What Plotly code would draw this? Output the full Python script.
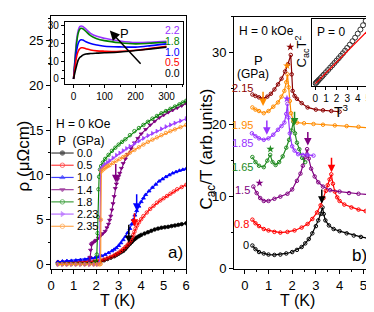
import plotly.graph_objects as go

W, H = 374, 312
FONT = "Liberation Sans, Arial, sans-serif"

# ---------------- Panel a: resistivity ----------------
pa_labels = ["0.0", "0.5", "1.0", "1.4", "1.8", "2.23", "2.35"]
pa_colors = ["#000000", "#FF0000", "#0000FF", "#800080", "#008000", "#A040FF", "#FF8C1A"]
pa_symbols = ["circle", "circle-open", "triangle-up", "triangle-down", "circle-open", "triangle-right", "circle-open"]

a_T00 = [0.3,0.5,0.7,0.9,1.1,1.3,1.5,1.7,1.9,2.05,2.2,2.35,2.5,2.65,2.8,2.9,3.0,3.1,3.2,3.28,3.35,3.42,3.5,3.58,3.65,3.72,3.8,3.9,4.0,4.15,4.3,4.45,4.6,4.75,4.9,5.05,5.2,5.35,5.5,5.65,5.8,6.0]
a_R00 = [0.15,0.15,0.15,0.15,0.15,0.18,0.2,0.22,0.25,0.3,0.35,0.45,0.6,0.75,0.9,1.05,1.2,1.35,1.5,1.7,1.9,2.1,2.3,2.5,2.7,2.85,3.0,3.15,3.3,3.45,3.6,3.75,3.9,4.0,4.1,4.15,4.2,4.28,4.35,4.42,4.5,4.6]
a_T05 = [0.3,0.5,0.7,0.9,1.1,1.3,1.5,1.7,1.9,2.05,2.2,2.35,2.5,2.65,2.8,2.9,3.0,3.1,3.2,3.3,3.4,3.48,3.55,3.6,3.65,3.7,3.75,3.82,3.9,4.0,4.1,4.25,4.4,4.55,4.7,4.85,5.0,5.15,5.3,5.45,5.6,5.8,6.0]
a_R05 = [0.25,0.25,0.25,0.25,0.25,0.28,0.3,0.32,0.35,0.4,0.45,0.55,0.7,0.85,1.0,1.15,1.3,1.5,1.7,1.95,2.2,2.45,2.7,3.0,3.3,3.65,4.0,4.35,4.7,5.05,5.4,5.8,6.2,6.55,6.9,7.15,7.4,7.65,7.9,8.15,8.4,8.65,8.9]
a_T10 = [0.3,0.5,0.7,0.9,1.1,1.3,1.5,1.65,1.8,1.95,2.1,2.25,2.4,2.55,2.7,2.8,2.9,3.0,3.1,3.2,3.3,3.4,3.5,3.58,3.65,3.72,3.8,3.9,4.0,4.1,4.2,4.35,4.5,4.65,4.8,4.95,5.1,5.25,5.4,5.55,5.7,5.85,6.0]
a_R10 = [0.3,0.35,0.4,0.42,0.45,0.5,0.55,0.62,0.7,0.75,0.8,0.95,1.1,1.3,1.5,1.67,1.85,2.1,2.4,2.75,3.1,3.55,4.0,4.5,5.0,5.5,6.0,6.5,7.0,7.4,7.8,8.2,8.6,8.95,9.3,9.55,9.8,10.0,10.2,10.35,10.5,10.6,10.7]
a_T14 = [1.68,1.7,1.72,1.75,1.78,1.82,1.88,1.95,2.0,2.1,2.2,2.3,2.4,2.48,2.55,2.6,2.65,2.7,2.75,2.8,2.85,2.9,2.95,3.0,3.05,3.12,3.2,3.3,3.4,3.55,3.7,3.85,4.0,4.2,4.4,4.6,4.8,5.0,5.2,5.4,5.6,5.8,6.0]
a_R14 = [0.0,0.4,0.8,1.6,2.2,2.35,2.45,2.6,2.7,2.95,3.2,3.45,3.7,4.1,4.5,4.95,5.4,6.1,6.8,7.6,8.5,9.0,9.5,9.85,10.2,10.75,11.3,11.8,12.3,12.95,13.6,14.1,14.6,15.1,15.6,16.0,16.4,16.7,17.0,17.25,17.5,17.75,18.0]
a_T18 = [0.3,0.5,0.7,0.9,1.1,1.3,1.5,1.7,1.9,2.0,2.03,2.06,2.08,2.1,2.13,2.17,2.22,2.3,2.4,2.55,2.7,2.85,3.0,3.15,3.3,3.5,3.7,3.9,4.1,4.3,4.5,4.7,4.9,5.1,5.3,5.5,5.7,5.85,6.0]
a_R18 = [0.05,0.05,0.05,0.05,0.05,0.05,0.05,0.07,0.1,0.3,1.1,3.5,5.3,8.4,9.8,10.6,11.0,11.4,11.8,12.25,12.7,13.05,13.4,13.7,14.0,14.45,14.9,15.25,15.6,15.95,16.3,16.6,16.9,17.15,17.4,17.65,17.9,18.1,18.3]
a_T223 = [0.3,0.5,0.7,0.9,1.1,1.3,1.5,1.7,1.9,2.05,2.15,2.18,2.2,2.25,2.32,2.4,2.5,2.6,2.75,2.9,3.05,3.2,3.35,3.5,3.7,3.9,4.1,4.3,4.5,4.7,4.9,5.1,5.3,5.5,5.75,6.0]
a_R223 = [0.0,0.0,0.0,0.0,0.0,0.0,0.0,0.0,0.0,0.0,0.1,5.0,10.5,10.8,11.0,11.2,11.4,11.6,11.9,12.2,12.45,12.7,12.95,13.2,13.5,13.8,14.1,14.4,14.65,14.9,15.15,15.4,15.6,15.8,16.05,16.3]
a_T235 = [0.3,0.5,0.7,0.9,1.1,1.3,1.5,1.7,1.9,2.05,2.15,2.2,2.21,2.23,2.3,2.38,2.45,2.52,2.6,2.75,2.9,3.05,3.2,3.35,3.5,3.7,3.9,4.1,4.3,4.5,4.7,4.9,5.1,5.3,5.5,5.75,6.0]
a_R235 = [0.0,0.0,0.0,0.0,0.0,0.0,0.0,0.0,0.0,0.0,0.0,0.05,5.0,10.4,10.6,10.75,10.9,11.0,11.1,11.35,11.6,11.8,12.0,12.25,12.5,12.8,13.1,13.4,13.7,13.95,14.2,14.45,14.7,14.9,15.1,15.35,15.6]
pa_T = [a_T00, a_T05, a_T10, a_T14, a_T18, a_T223, a_T235]
pa_R = [a_R00, a_R05, a_R10, a_R14, a_R18, a_R223, a_R235]

# arrows in panel a: (T, tail rho, head rho, color index)
pa_arrows = [(3.45, 4.6, 2.4, 0), (3.7, 5.9, 4.2, 1), (3.8, 8.0, 6.0, 2), (2.87, 11.4, 9.2, 3)]

# ---------------- Inset a: rho(T) to 300 K ----------------
ia_labels = ["2.2", "1.8", "1.0", "0.5", "0.0"]
ia_colors = ["#9933FF", "#008000", "#0000FF", "#FF0000", "#000000"]
ia_T = [0, 5, 10, 15, 20, 25, 30, 40, 55, 75, 100, 150, 200, 250, 300]
ia_R22 = [0, 12, 22, 27, 29.2, 29.6, 29.3, 27.8, 25.5, 23.8, 22.7, 21.2, 20.3, 20.5, 21.0]
ia_R18 = [0, 11, 20, 25.5, 27.8, 28.3, 28.0, 26.5, 24.2, 22.5, 21.4, 20.2, 19.6, 20.0, 20.5]
ia_R10 = [0, 9, 16, 19.8, 21.5, 21.9, 21.7, 20.8, 19.8, 19.0, 18.3, 17.9, 17.8, 18.6, 19.6]
ia_R05 = [0, 7, 12.5, 15.5, 16.9, 17.4, 17.4, 16.9, 16.2, 15.7, 15.5, 15.4, 16.0, 17.1, 18.3]
ia_R00 = [0, 4, 7.5, 10.5, 12.0, 12.6, 13.3, 13.9, 14.2, 14.4, 14.6, 15.1, 15.9, 16.8, 17.8]
ia_R = [ia_R22, ia_R18, ia_R10, ia_R05, ia_R00]

# ---------------- Panel b: Cac/T ----------------
pb_labels = ["0", "0.8", "1.5", "1.65", "1.85", "1.95", "2.15"]
pb_colors = ["#000000", "#FF0000", "#800080", "#228B22", "#9933FF", "#FF8C00", "#8B0000"]

b_T0 = [0.32,0.45,0.6,0.8,1.0,1.25,1.5,1.75,2.0,2.2,2.4,2.55,2.7,2.85,3.0,3.1,3.2,3.28,3.33,3.4,3.55,3.75,4.0,4.3,4.6,4.9,5.2,5.5]
b_C0 = [3.2,2.7,2.3,2.1,1.95,1.9,1.95,2.1,2.3,2.6,3.0,3.5,4.1,4.9,5.9,6.7,7.6,8.5,7.6,6.7,6.0,5.5,5.2,4.9,4.6,4.4,4.2,4.0]
b_T08 = [0.32,0.45,0.6,0.8,1.0,1.25,1.5,1.8,2.1,2.4,2.65,2.85,3.05,3.2,3.32,3.42,3.5,3.58,3.65,3.72,3.8,3.9,4.0,4.2,4.5,4.8,5.1,5.5]
b_C08 = [6.8,6.3,5.9,5.5,5.3,5.1,5.0,5.1,5.3,5.7,6.2,6.9,7.8,8.8,9.8,10.8,11.6,12.4,13.1,11.8,10.7,9.9,9.4,8.9,8.5,8.2,8.0,7.8]
b_T15 = [0.36,0.5,0.65,0.8,1.0,1.25,1.5,1.8,2.0,2.2,2.35,2.45,2.55,2.63,2.7,2.8,2.95,3.1,3.3,3.6,4.0,4.4,4.8,5.2,5.5]
b_C15 = [11.4,10.5,9.8,9.4,9.4,9.7,10.0,10.4,11.0,12.2,13.2,14.3,15.5,16.6,15.3,13.9,12.8,12.0,11.4,10.9,10.7,10.5,10.4,10.3,10.2]
b_T165 = [0.32,0.45,0.6,0.8,0.95,1.07,1.17,1.3,1.45,1.6,1.75,1.87,1.97,2.05,2.12,2.2,2.3,2.42,2.55]
b_C165 = [15.5,14.8,14.3,14.1,15.0,15.8,14.8,14.4,14.8,15.6,16.8,17.9,19.2,20.4,18.8,17.5,16.6,15.4,14.8]
b_T185 = [0.3,0.45,0.6,0.8,1.0,1.2,1.4,1.55,1.67,1.75,1.8,1.84,1.9,2.0,2.1,2.25,2.45,2.65,2.9]
b_C185 = [18.8,18.4,18.1,17.9,18.1,18.6,19.3,19.8,20.3,21.5,22.9,21.0,18.8,17.0,16.4,15.9,15.8,15.8,15.7]
b_T195 = [0.32,0.45,0.6,0.8,1.0,1.2,1.4,1.55,1.67,1.75,1.8,1.85,1.9,1.95,2.05,2.2,2.5,2.9,3.3,3.8,4.3,4.8,5.2,5.5]
b_C195 = [22.4,22.1,21.9,21.6,21.9,22.5,23.1,23.9,24.7,25.9,27.0,25.2,23.3,21.6,20.6,20.3,20.2,20.1,20.0,19.9,19.8,19.7,19.6,19.5]
b_T215 = [0.32,0.45,0.6,0.77,0.95,1.1,1.25,1.4,1.55,1.7,1.82,1.94,1.98,2.02,2.1,2.2,2.4,2.65,3.0,3.3,3.65,4.0]
b_C215 = [24.2,24.0,23.8,23.6,23.9,24.3,24.9,25.6,26.4,27.4,28.4,29.7,27.0,24.7,24.0,23.6,23.0,22.4,22.1,22.0,21.9,21.8]
pb_T = [b_T0, b_T08, b_T15, b_T165, b_T185, b_T195, b_T215]
pb_C = [b_C0, b_C08, b_C15, b_C165, b_C185, b_C195, b_C215]

# stars (T, C, color index)
pb_stars = [(1.92, 30.8, 6), (1.78, 28.2, 5), (1.78, 23.6, 4), (1.08, 16.6, 3), (0.62, 11.9, 2)]
# arrows (T, tail C, head C, color index)
pb_arrows = [(3.25, 11.2, 9.0, 0), (3.66, 15.6, 13.4, 1), (2.66, 19.2, 17.1, 2),
             (2.1, 22.0, 19.9, 3), (0.93, 20.8, 18.6, 4), (0.77, 24.8, 22.6, 5)]

# ---------------- Inset b: Cac T^2 vs T^3 ----------------
ib_x = [0.02,0.08,0.15,0.25,0.35,0.5,0.65,0.8,1.0,1.2,1.4,1.6,1.8,2.0,2.2,2.4,2.6,2.8,3.0,3.25,3.5,3.75,4.0,4.25,4.5,4.75]
ib_y = [0.02,0.08,0.16,0.26,0.37,0.52,0.68,0.84,1.05,1.26,1.48,1.69,1.91,2.13,2.35,2.58,2.81,3.05,3.3,3.6,3.92,4.25,4.62,5.0,5.4,5.8]
ib_fit_x = [0.0, 5.45]
ib_fit_y = [0.0, 5.4]

fig = go.Figure()

def px(x):
    return x / W

def py(y):
    return 1 - y / H

# panel a main traces
for lab, col, sym, T, R in zip(pa_labels, pa_colors, pa_symbols, pa_T, pa_R):
    fig.add_trace(go.Scatter(x=T, y=R, mode="lines+markers", line=dict(color=col, width=1.1),
                             marker=dict(symbol=sym, size=3.5, color=col, line=dict(color=col, width=0.8)),
                             xaxis="x", yaxis="y", showlegend=False))

# manual legend for panel a (axis x5/y5 with nothing drawn); sample line spans 0..1
for i, (lab, col, sym) in enumerate(zip(pa_labels, pa_colors, pa_symbols)):
    fig.add_trace(go.Scatter(x=[0, 0.5, 1], y=[i, i, i], mode="lines+markers",
                             line=dict(color=col, width=1.2), opacity=0.75,
                             marker=dict(symbol=sym, size=[0, 4.5, 0], color=col, line=dict(color=col, width=1)),
                             xaxis="x5", yaxis="y5", showlegend=False))
    fig.add_annotation(x=1.04, y=i, xref="x5", yref="y5", text=lab, showarrow=False,
                       xanchor="left", yanchor="middle", font=dict(size=11, color="#000", family=FONT))

# inset a
for lab, col, R in zip(ia_labels, ia_colors, ia_R):
    fig.add_trace(go.Scatter(x=ia_T, y=R, mode="lines", line=dict(color=col, width=1.6, shape="spline"),
                             xaxis="x2", yaxis="y2", showlegend=False))

# panel b traces
for lab, col, T, C in zip(pb_labels, pb_colors, pb_T, pb_C):
    fig.add_trace(go.Scatter(x=T, y=C, mode="lines+markers", line=dict(color=col, width=1.2),
                             marker=dict(symbol="circle-open", size=3.5, color=col, line=dict(color=col, width=1)),
                             xaxis="x3", yaxis="y3", showlegend=False))
fig.add_trace(go.Scatter(x=[s[0] for s in pb_stars], y=[s[1] for s in pb_stars], mode="markers",
                         marker=dict(symbol="star", size=6, color=[pb_colors[s[2]] for s in pb_stars]),
                         xaxis="x3", yaxis="y3", showlegend=False))

# inset b
fig.add_trace(go.Scatter(x=ib_x, y=ib_y, mode="markers",
                         marker=dict(symbol="circle-open", size=5, color="#333", line=dict(width=1)),
                         xaxis="x4", yaxis="y4", showlegend=False))
fig.add_trace(go.Scatter(x=ib_fit_x, y=ib_fit_y, mode="lines", line=dict(color="#FF0000", width=1.3),
                         xaxis="x4", yaxis="y4", showlegend=False))

# arrows
for T, t0, t1, ci in pa_arrows:
    fig.add_annotation(x=T, y=t1, ax=T, ay=t0, xref="x", yref="y", axref="x", ayref="y", text="",
                       showarrow=True, arrowhead=2, arrowsize=1, arrowwidth=1.5, arrowcolor=pa_colors[ci])
for T, t0, t1, ci in pb_arrows:
    fig.add_annotation(x=T, y=t1, ax=T, ay=t0, xref="x3", yref="y3", axref="x3", ayref="y3", text="",
                       showarrow=True, arrowhead=2, arrowsize=1, arrowwidth=1.5, arrowcolor=pb_colors[ci])
# inset a pressure arrow
fig.add_annotation(x=117, y=27, ax=221, ay=7.6, xref="x2", yref="y2", axref="x2", ayref="y2", text="",
                   showarrow=True, arrowhead=2, arrowsize=1.3, arrowwidth=1.5, arrowcolor="#000")

def txt(x, y, s, size=12, color="#000", xanchor="center", angle=0):
    fig.add_annotation(x=px(x), y=py(y), xref="paper", yref="paper", text=s, showarrow=False,
                       xanchor=xanchor, yanchor="middle", textangle=angle,
                       font=dict(size=size, color=color, family=FONT))

# inset a labels
for lab, col, yy in zip(ia_labels, ia_colors, [21, 32, 43, 54, 65]):
    txt(174, yy, lab, 10.5, col, "right")
txt(115, 24, "P", 13)

# panel a texts
txt(43, 117, "H = 0 kOe", 12, xanchor="left")
txt(45, 135, "P  (GPa)", 12, xanchor="left")
txt(167, 250, "a)", 17)
txt(12, 150, "ρ (μΩcm)", 17, angle=-90)
txt(108, 299, "T (K)", 16)

# panel b texts
txt(230, 22, "H = 0 kOe", 12, xanchor="left")
txt(252, 52, "P", 13)
txt(246, 66, "(GPa)", 12)
for lab, col, xx, yy in zip(pb_labels, pb_colors, [239, 235, 236, 236, 236, 236, 236], [242, 220, 185, 162, 137, 118, 80]):
    txt(xx, yy, lab, 11, col)
txt(355, 253, "b)", 17)
txt(200, 143, "C<sub>ac</sub>/T (arb.units)", 17, angle=-90)
txt(292, 299, "T (K)", 16)

# inset b texts
txt(326, 23, "P = 0", 12)
txt(296, 43, "C<sub>ac</sub>T<sup>2</sup>", 13, angle=-90)
txt(337, 104, "T<sup>3</sup>", 14)

axis_common = dict(showline=True, linecolor="#000", linewidth=1, mirror=True, showgrid=False,
                   zeroline=False, ticks="outside", tickcolor="#000", tickfont=dict(size=13, family=FONT, color="#000"))
inset_common = dict(showline=True, linecolor="#000", linewidth=1, mirror=True, showgrid=False,
                    zeroline=False, ticks="outside", ticklen=3, tickcolor="#000",
                    tickfont=dict(size=10, family=FONT, color="#000"))
blank_axis = dict(showline=False, showgrid=False, zeroline=False, showticklabels=False, ticks="")

fig.update_layout(
    width=W, height=H, margin=dict(l=0, r=0, t=0, b=0),
    paper_bgcolor="white", plot_bgcolor="white", showlegend=False,
    font=dict(family=FONT, color="#000"),
    xaxis=dict(domain=[px(40), px(178)], range=[0, 6], anchor="y", dtick=1, ticklen=4,
               minor=dict(ticks="outside", ticklen=2, dtick=0.5, tickcolor="#000"), **axis_common),
    yaxis=dict(domain=[py(267), py(6)], range=[-0.55, 27.8], anchor="x", dtick=5, ticklen=4,
               minor=dict(ticks="outside", ticklen=2, dtick=2.5, tickcolor="#000"), **axis_common),
    xaxis2=dict(domain=[px(54), px(175)], range=[-28, 354], anchor="y2", tickvals=[0, 100, 200, 300],
                minor=dict(ticks="outside", ticklen=2, dtick=50, tickcolor="#000"), **inset_common),
    yaxis2=dict(domain=[py(76), py(12)], range=[-2.7, 32], anchor="x2", tickvals=[0, 10, 20, 30],
                minor=dict(ticks="outside", ticklen=2, dtick=5, tickcolor="#000"), **inset_common),
    xaxis3=dict(domain=[px(227), px(372)], range=[-0.45, 5.54], anchor="y3", dtick=1, ticklen=4,
                minor=dict(ticks="outside", ticklen=2, dtick=0.5, tickcolor="#000"), **axis_common),
    yaxis3=dict(domain=[py(267), py(7)], range=[-0.1, 35], anchor="x3", dtick=10, ticklen=4,
                minor=dict(ticks="outside", ticklen=2, dtick=5, tickcolor="#000"), **axis_common),
    xaxis4=dict(domain=[px(307), px(369)], range=[-0.28, 5.45], anchor="y4", tickvals=[0, 1, 2, 3, 4, 5], **inset_common),
    yaxis4=dict(domain=[py(78), py(9)], range=[-0.2, 6.0], anchor="x4", showticklabels=False,
                showline=True, linecolor="#000", linewidth=1, mirror=True, showgrid=False, zeroline=False,
                ticks=""),
    xaxis5=dict(domain=[px(40), px(86)], range=[0, 2], anchor="y5", **blank_axis),
    yaxis5=dict(domain=[py(229), py(141)], range=[6.5, -0.5], anchor="x5", **blank_axis),
)

fig.write_html("out.html")
